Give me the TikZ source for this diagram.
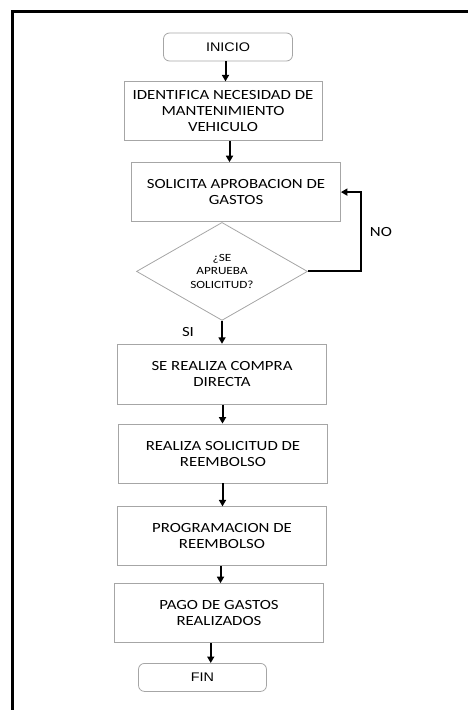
\documentclass[tikz,border=0pt]{standalone}
\usepackage{fontspec}
\usepackage{tikz}
\setmainfont{Carlito}[FakeStretch=1.2]
\newfontfamily\extremofont{Liberation Sans}[FakeStretch=1.15]
\usetikzlibrary{shapes,arrows,positioning,calc,arrows.meta}

\begin{document}
\begin{tikzpicture}[
    x=1pt, y=1pt,
    every node/.style={font=\fontsize{14}{16}\selectfont, align=center},
    proceso/.style={rectangle, draw=gray!70, line width=0.8pt, minimum width=209pt, minimum height=59pt, inner sep=0pt},
    extremo/.style={rectangle, rounded corners=6pt, draw=gray!70, line width=0.8pt, minimum width=129pt, minimum height=28pt, font=\extremofont\fontsize{12.5}{14}\selectfont},
    decision/.style={diamond, draw=gray!70, line width=0.8pt, minimum width=171pt, minimum height=98pt, aspect=1.75, inner sep=0pt, font=\fontsize{11}{13.5}\selectfont},
    flecha/.style={-{Triangle[length=6.5pt,width=7pt]}, line width=2pt},
    etiqueta/.style={inner sep=0pt}
]
    \useasboundingbox (0,0) rectangle (468,-710);
    \draw[line width=3pt] (468,-11) -- (12,-11) -- (12,-710);

    \node[extremo] (inicio) at (228,-47) {INICIO};
    \node[proceso, minimum width=198pt, below=20pt of inicio, xshift=-5pt] (identifica) {IDENTIFICA NECESIDAD DE\\MANTENIMIENTO\\VEHICULO};
    \node[proceso, below=21pt of identifica, xshift=13pt] (aprobacion) {SOLICITA APROBACION DE\\GASTOS};
    \node[decision, below=0pt of aprobacion, xshift=-14pt] (aprueba) {¿SE\\APRUEBA\\SOLICITUD?};
    \node[proceso, minimum height=60pt, below=23pt of aprueba] (compra) {SE REALIZA COMPRA\\DIRECTA};
    \node[proceso, below=19pt of compra, xshift=1pt] (reembolso) {REALIZA SOLICITUD DE\\REEMBOLSO};
    \node[proceso, below=23pt of reembolso, xshift=-1pt] (programacion) {PROGRAMACION DE\\REEMBOLSO};
    \node[proceso, below=17pt of programacion, xshift=-3pt] (pago) {PAGO DE GASTOS\\REALIZADOS};
    \node[extremo, minimum width=128pt, below=20pt of pago, xshift=-16.5pt] (fin) {FIN};

    \foreach \a/\b in {inicio/identifica, identifica/aprobacion, aprueba/compra, compra/reembolso, reembolso/programacion, programacion/pago, pago/fin} {
        \coordinate (m) at ($(\a.south)!0.5!(\b.north)$);
        \draw[flecha] (m |- \a.south) -- (m |- \b.north);
    }

    \node[etiqueta] (si) at ([xshift=-34pt, yshift=-11pt]aprueba.south) {SI};
    \draw[flecha] (aprueba.east) -- ++(53pt,0) |- node[etiqueta, pos=0.25, right=8pt] (no) {NO} (aprobacion.east);
\end{tikzpicture}
\end{document}
